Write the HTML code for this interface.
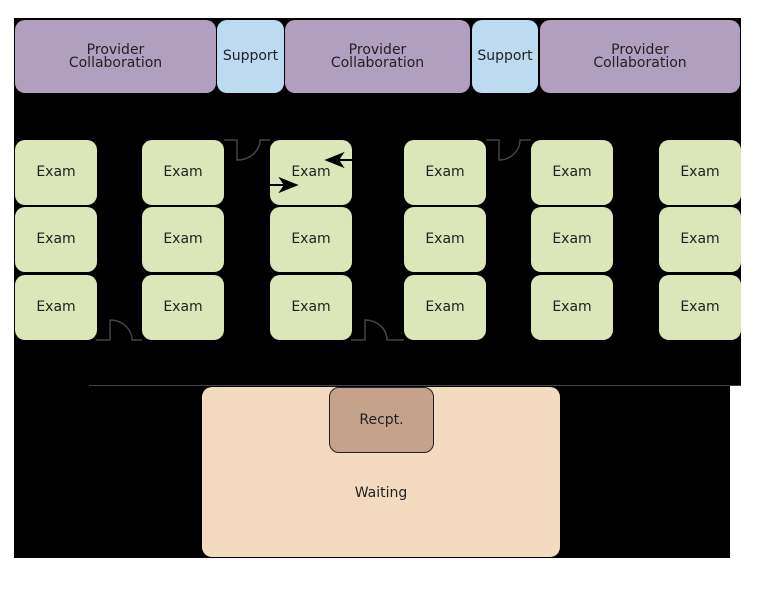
<!DOCTYPE html>
<html><head><meta charset="utf-8"><style>
body{margin:0;background:#fff;width:766px;height:591px;position:relative;overflow:hidden;font-family:"DejaVu Sans","Liberation Sans",sans-serif;}
.b{position:absolute;display:flex;align-items:center;justify-content:center;text-align:center;font-size:14px;color:#222;border-radius:10px;line-height:13px;box-sizing:border-box}
.p{background:#b09fbf;top:20px;height:73px}
.s{background:#bcdaf0;top:20px;height:73px}
.e{background:#dbe6b9;width:82px;height:65px;color:#222}
</style></head><body>
<div style="position:absolute;left:14px;top:18px;width:727px;height:368px;background:#000"></div>
<div style="position:absolute;left:14px;top:386px;width:716px;height:172px;background:#000"></div>
<div style="position:absolute;left:89px;top:385px;width:652px;height:1px;background:#444"></div>
<div class="b p" style="left:15px;width:201px">Provider<br>Collaboration</div>
<div class="b s" style="left:217px;width:67px">Support</div>
<div class="b p" style="left:285px;width:185px">Provider<br>Collaboration</div>
<div class="b s" style="left:472px;width:66px">Support</div>
<div class="b p" style="left:540px;width:200px">Provider<br>Collaboration</div>

<div class="b e" style="left:15px;top:140px">Exam</div>
<div class="b e" style="left:142px;top:140px">Exam</div>
<div class="b e" style="left:270px;top:140px">Exam</div>
<div class="b e" style="left:404px;top:140px">Exam</div>
<div class="b e" style="left:531px;top:140px">Exam</div>
<div class="b e" style="left:659px;top:140px">Exam</div>
<div class="b e" style="left:15px;top:207px">Exam</div>
<div class="b e" style="left:142px;top:207px">Exam</div>
<div class="b e" style="left:270px;top:207px">Exam</div>
<div class="b e" style="left:404px;top:207px">Exam</div>
<div class="b e" style="left:531px;top:207px">Exam</div>
<div class="b e" style="left:659px;top:207px">Exam</div>
<div class="b e" style="left:15px;top:275px">Exam</div>
<div class="b e" style="left:142px;top:275px">Exam</div>
<div class="b e" style="left:270px;top:275px">Exam</div>
<div class="b e" style="left:404px;top:275px">Exam</div>
<div class="b e" style="left:531px;top:275px">Exam</div>
<div class="b e" style="left:659px;top:275px">Exam</div>

<div class="b" style="left:202px;top:387px;width:358px;height:170px;background:#f4dbbf;padding-top:42px">Waiting</div>
<div class="b" style="left:329px;top:387px;width:105px;height:66px;background:#c5a28a;border:1px solid #222">Recpt.</div>

<svg style="position:absolute;left:0;top:0" width="766" height="591">
<g fill="none" stroke="#444" stroke-width="1.5">
<path d="M96 340H110V320A22 20 0 0 1 132 340H142"/>
<path d="M351 340H365V320A22 20 0 0 1 387 340H404"/>
<path d="M224 140H237V160A23 20 0 0 0 260 140H270"/>
<path d="M486 140H499V160A21 20 0 0 0 520 140H531"/>
</g>
<g stroke="#000" stroke-width="2" fill="#000">
<line x1="352" y1="160" x2="336" y2="160"/><path d="M327 160L342 154L338 160L342 166Z"/>
<line x1="270" y1="185" x2="287" y2="185"/><path d="M296 185L281 179L285 185L281 191Z"/>
</g>
</svg>
</body></html>
